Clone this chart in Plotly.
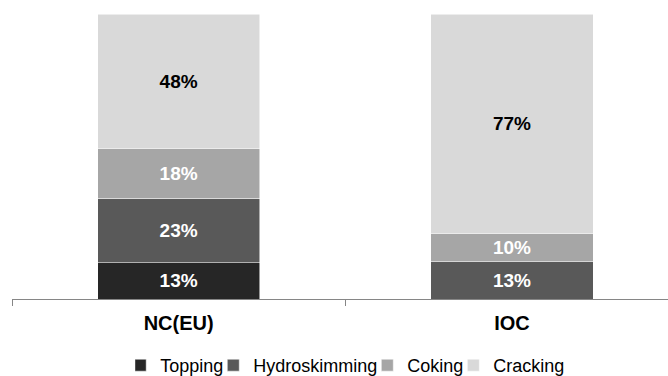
import plotly.graph_objects as go

# Refinery configuration shares by company
categories = ["NC(EU)", "IOC"]
topping = [13, 0]
hydroskimming = [23, 13]
coking = [18, 10]
cracking = [48, 77]

series = [
    ("Topping", topping, "#262626", "white"),
    ("Hydroskimming", hydroskimming, "#595959", "white"),
    ("Coking", coking, "#a6a6a6", "white"),
    ("Cracking", cracking, "#d9d9d9", "black"),
]

FONT = "Liberation Sans, Arial, sans-serif"

fig = go.Figure()
for name, vals, color, txtcolor in series:
    fig.add_trace(go.Bar(
        name=name,
        x=categories,
        y=vals,
        text=[f"{v}%" if v else "" for v in vals],
        textposition="inside",
        insidetextanchor="middle",
        textangle=0,
        textfont=dict(family=FONT, size=19, color=txtcolor, weight="bold"),
        marker=dict(color=color, line=dict(color="rgba(255,255,255,0.7)", width=0.75)),
        width=0.4865,
        hoverinfo="skip",
    ))

fig.update_layout(
    barmode="stack",
    barnorm="percent",
    width=668,
    height=376,
    margin=dict(l=12, r=0, t=14, b=77, autoexpand=False),
    paper_bgcolor="white",
    plot_bgcolor="white",
    uniformtext=dict(minsize=8, mode="show"),
    showlegend=True,
    legend=dict(
        orientation="h",
        xref="container", yref="container",
        x=0.528, xanchor="center",
        y=0.028, yanchor="middle",
        traceorder="normal",
        font=dict(family=FONT, size=18, color="black"),
        indentation=-15,
        bgcolor="rgba(0,0,0,0)",
    ),
    xaxis=dict(
        range=[-0.5, 1.468],
        showline=True,
        linecolor="#868686",
        linewidth=1,
        ticks="outside",
        tickson="boundaries",
        ticklen=6,
        tickcolor="#868686",
        ticklabelstandoff=6,
        showgrid=False,
        zeroline=False,
        tickfont=dict(family=FONT, size=20, color="black", weight="bold"),
    ),
    yaxis=dict(
        range=[0, 100],
        visible=False,
        showgrid=False,
        zeroline=False,
    ),
)

fig.write_html("out.html")
